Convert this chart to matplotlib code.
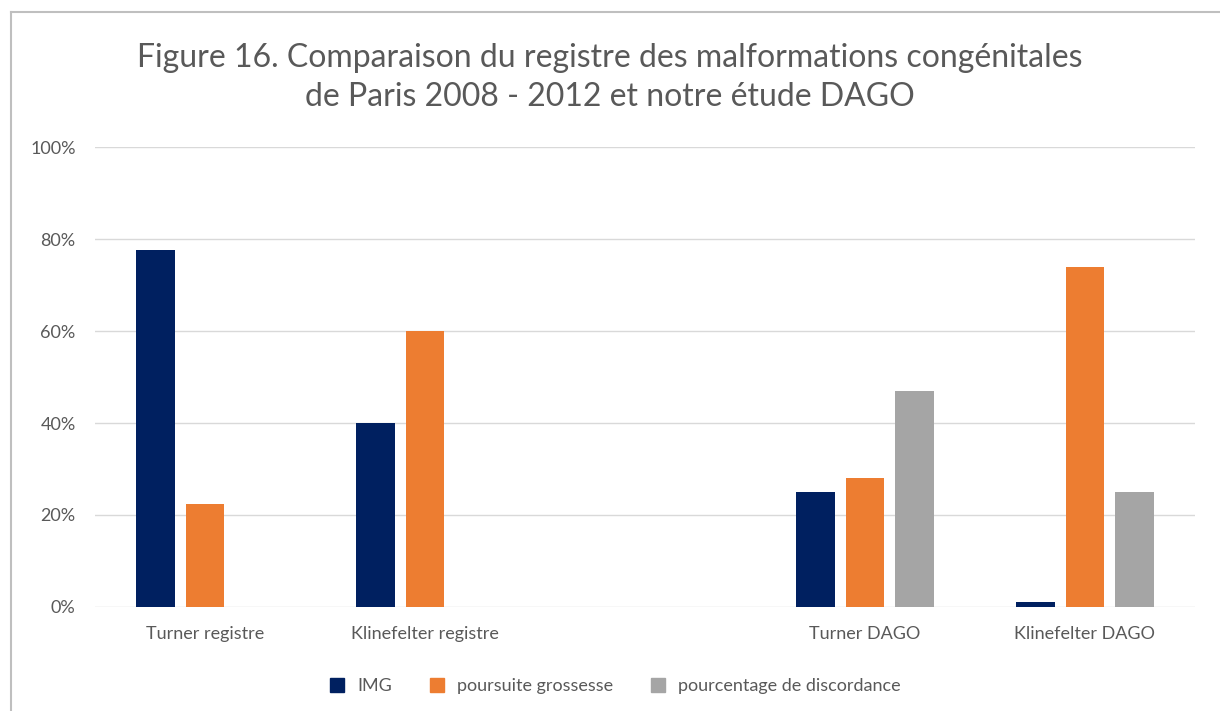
import numpy as np
import matplotlib.pyplot as plt
from matplotlib.lines import Line2D

plt.rcParams['font.family'] = ['Lato', 'DejaVu Sans']

categories = ["Turner registre", "Klinefelter registre", "", "Turner DAGO", "Klinefelter DAGO"]
series = ["IMG", "poursuite grossesse", "pourcentage de discordance"]
img = [0.776, 0.40, 0.0, 0.25, 0.01]
poursuite = [0.224, 0.60, 0.0, 0.28, 0.74]
discordance = [0.0, 0.0, 0.0, 0.47, 0.25]
colors = ["#002060", "#ED7D31", "#A5A5A5"]

fig = plt.figure(figsize=(12.2, 7.11), dpi=100)
ax = fig.add_axes([0.0779, 0.1463, 0.9016, 0.6469])

x = np.arange(len(categories))
w = 0.175
for vals, off, c, lab in zip([img, poursuite, discordance], [-0.225, 0.0, 0.225], colors, series):
    ax.bar(x + off, vals, w, color=c, label=lab, zorder=3)

ax.set_xlim(-0.5, len(categories) - 0.5)
ax.set_ylim(0, 1)
ax.set_yticks(np.arange(0, 1.01, 0.2))
ax.set_yticklabels([f"{int(round(v*100))}%" for v in np.arange(0, 1.01, 0.2)])
ax.set_xticks(x)
ax.set_xticklabels(categories)
ax.tick_params(axis='both', length=0, labelsize=13, labelcolor="#595959")
ax.tick_params(axis='y', pad=14)
ax.tick_params(axis='x', pad=14)
ax.grid(axis='y', color="#D9D9D9", lw=1, zorder=0)
for s in ax.spines.values():
    s.set_visible(False)

fig.text(0.5, 0.891, "Figure 16. Comparaison du registre des malformations congénitales\nde Paris 2008 - 2012 et notre étude DAGO",
         ha='center', va='center', fontsize=23, color="#595959", linespacing=1.4)

handles = [Line2D([], [], marker='s', ls='', color=c, markersize=10) for c in colors]
fig.legend(handles, series, loc='center', bbox_to_anchor=(0.5, 0.035), ncol=3, frameon=False,
           fontsize=13, labelcolor="#595959", handletextpad=0.1, columnspacing=1.5)

fig.add_artist(Line2D([0.009, 0.009], [0, 0.983], color="#BFBFBF", lw=1.5))
fig.add_artist(Line2D([0.009, 1.0], [0.983, 0.983], color="#BFBFBF", lw=1.5))

fig.savefig("out.png")
